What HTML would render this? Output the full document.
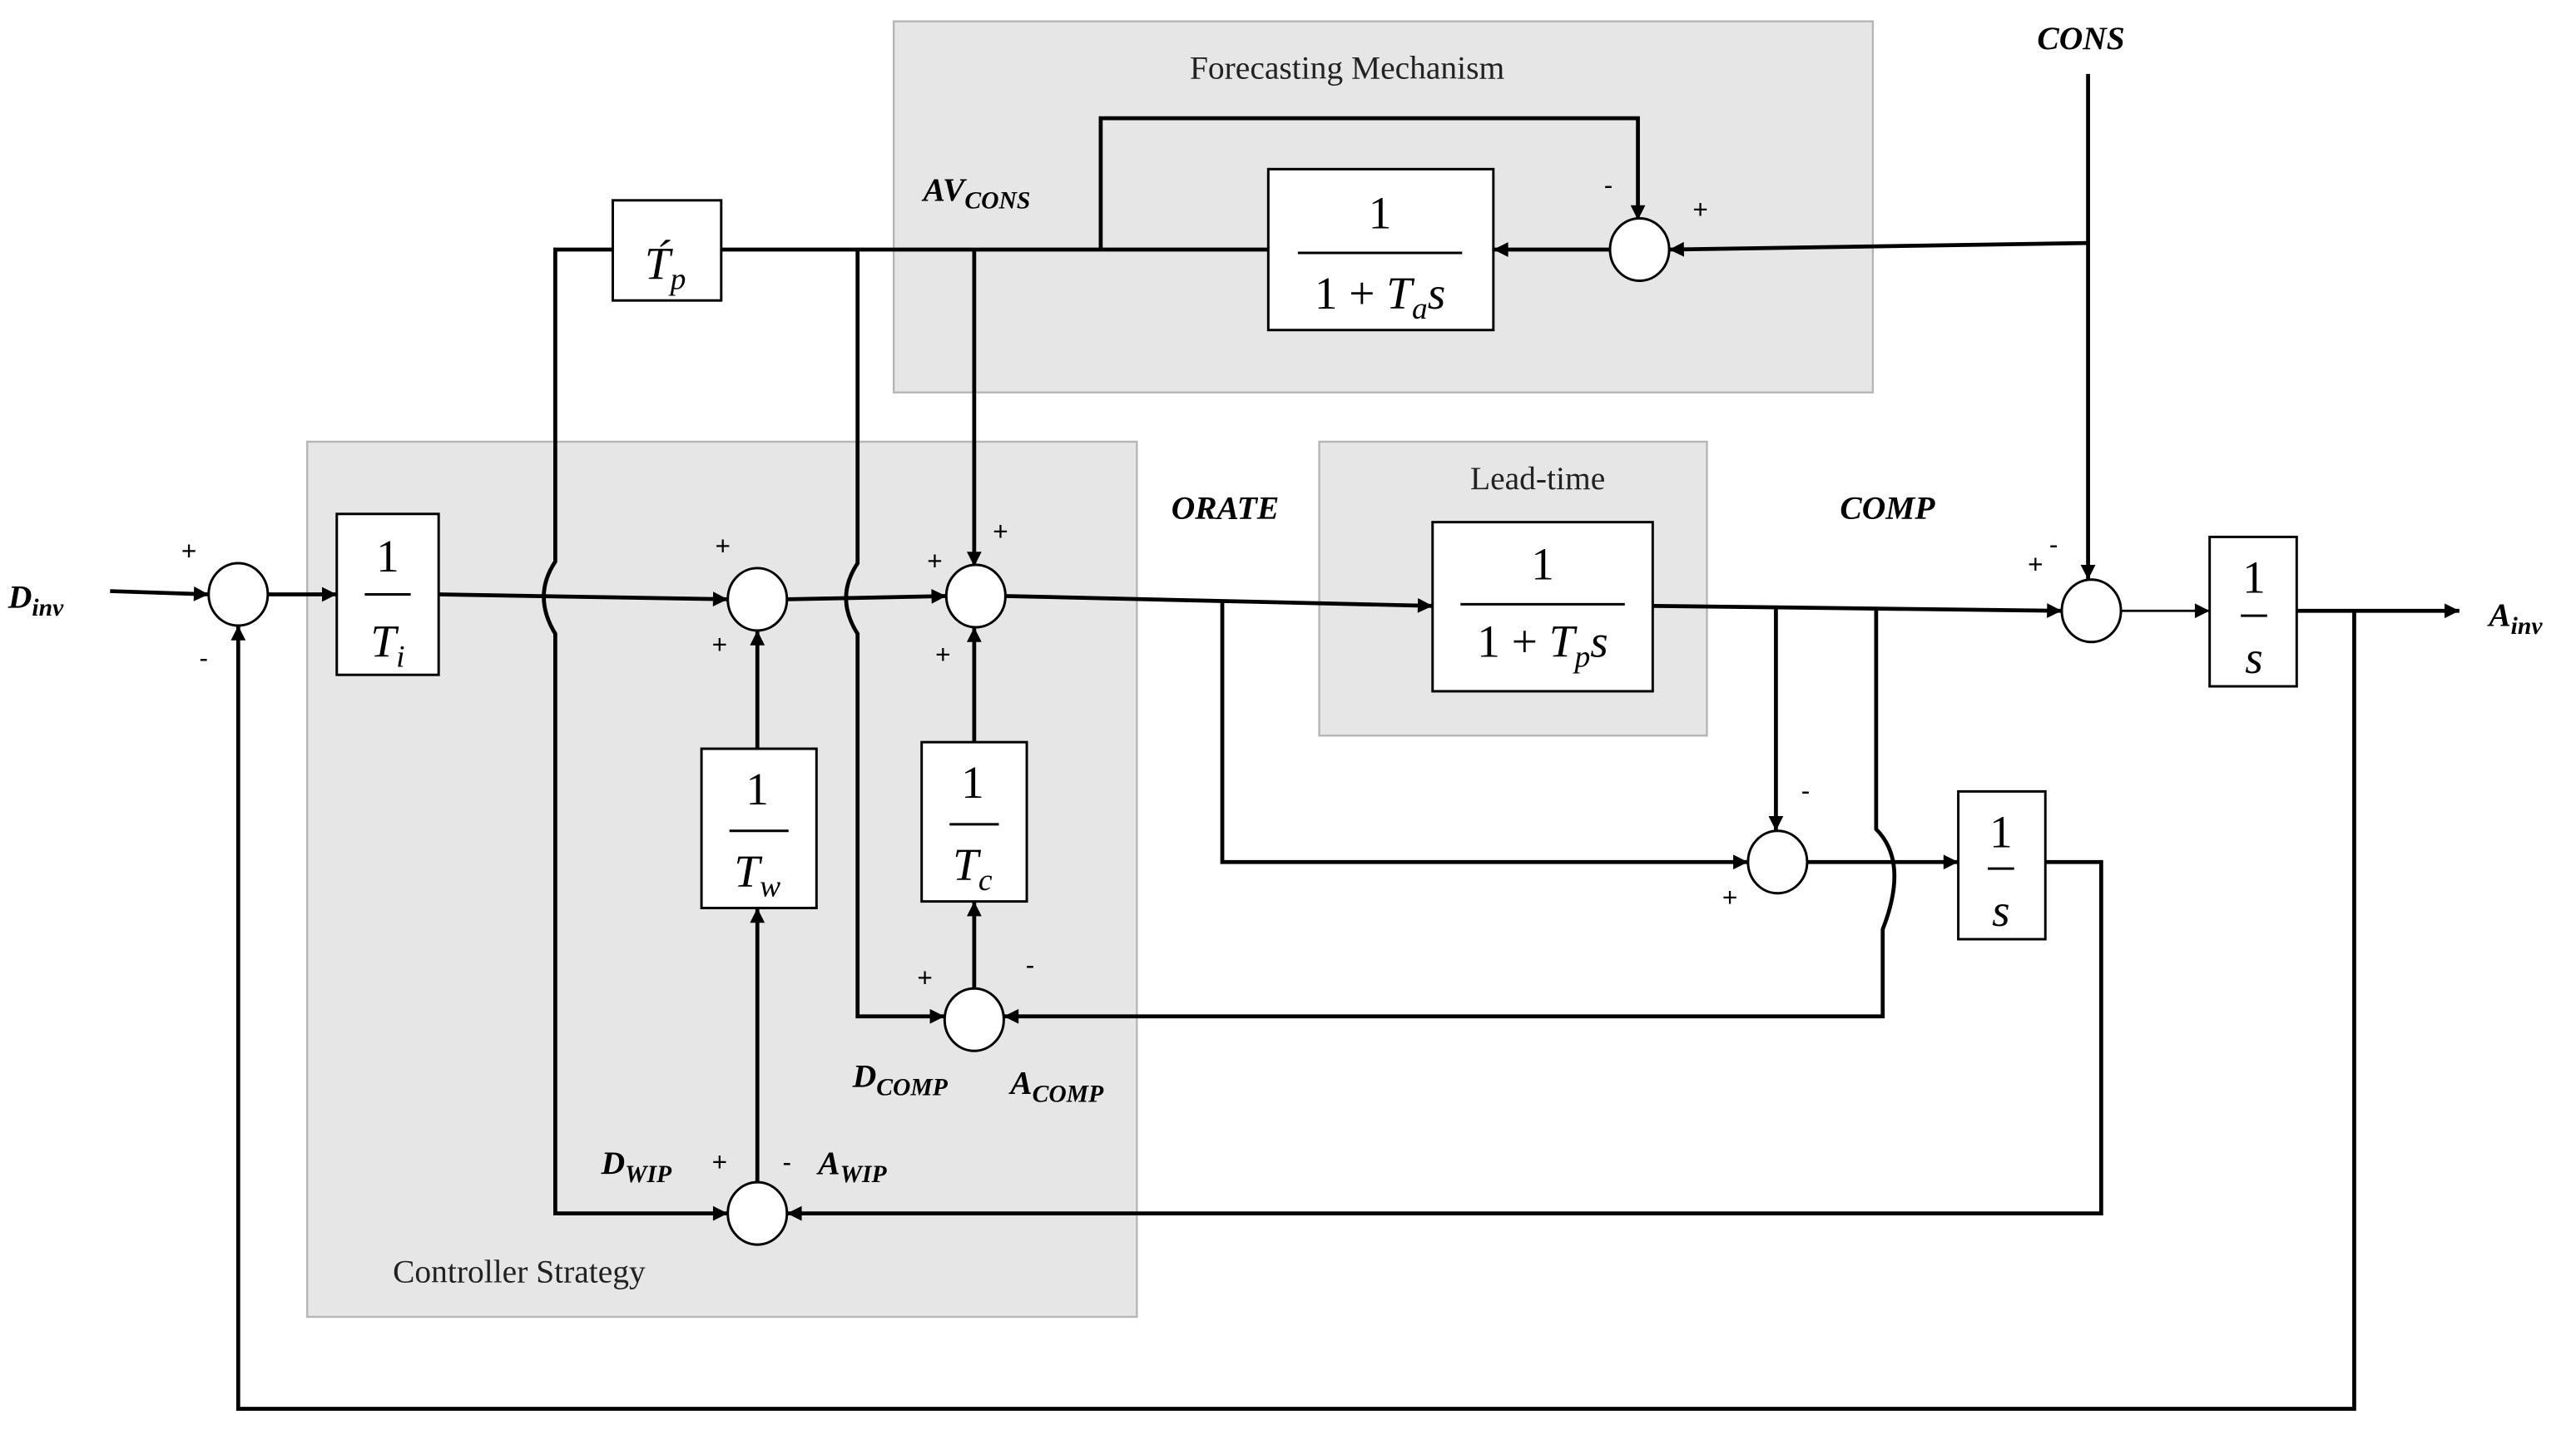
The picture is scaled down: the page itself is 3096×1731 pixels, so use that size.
<!DOCTYPE html>
<html><head><meta charset="utf-8"><style>html,body{margin:0;padding:0;background:#fff}svg{display:block}</style></head>
<body>
<svg width="3096" height="1731" viewBox="0 0 1568 877" preserveAspectRatio="none" xmlns="http://www.w3.org/2000/svg">
<defs>
<marker id="a" viewBox="0 0 10 10" refX="10" refY="5" markerWidth="11" markerHeight="9" markerUnits="userSpaceOnUse" orient="auto"><path d="M0,0 L10,5 L0,10 z" fill="#000"/></marker>
</defs>
<rect x="0" y="0" width="1568" height="877" fill="#fff"/>
<!-- regions -->
<rect x="544" y="13" width="596" height="226" fill="#e6e6e6" stroke="#b5b5b5" stroke-width="1.2"/>
<rect x="187" y="269" width="505" height="533" fill="#e6e6e6" stroke="#b5b5b5" stroke-width="1.2"/>
<rect x="803" y="269" width="236" height="179" fill="#e6e6e6" stroke="#b5b5b5" stroke-width="1.2"/>
<g font-family="Liberation Serif, serif" font-size="20" fill="#222" text-anchor="middle">
<text x="820" y="48">Forecasting Mechanism</text>
<text x="936" y="298">Lead-time</text>
<text x="316" y="781">Controller Strategy</text>
</g>
<!-- lines -->
<g fill="none" stroke="#000" stroke-width="2.4">
<path d="M67,360 L127,362" marker-end="url(#a)"/>
<path d="M163,362 L205,362" marker-end="url(#a)"/>
<path d="M267,362 L443,365" marker-end="url(#a)"/>
<path d="M479,365 L576,363" marker-end="url(#a)"/>
<path d="M612,363 L872,369" marker-end="url(#a)"/>
<path d="M744,366 V525 H1064" marker-end="url(#a)"/>
<path d="M1006,369 L1255,372" marker-end="url(#a)"/>
<path d="M1081,370 V506" marker-end="url(#a)"/>
<path d="M1142,371 V505 Q1162,525 1146,566 V619 H611" marker-end="url(#a)"/>
<path d="M1100,525 H1192" marker-end="url(#a)"/>
<path d="M1245,525 H1279 V739 H479" marker-end="url(#a)"/>
<path d="M1291,372 H1345" stroke-width="1.4" marker-end="url(#a)"/>
<path d="M1398,372 H1497" marker-end="url(#a)"/>
<path d="M1433,372 V858 H145 V381" marker-end="url(#a)"/>
<path d="M1271,45 V353" marker-end="url(#a)"/>
<path d="M1271,148 L1016,152" marker-end="url(#a)"/>
<path d="M980,152 H909" marker-end="url(#a)"/>
<path d="M772,152 H439"/>
<path d="M373,152 H338 V342 Q324,363 338,386 V739 H443" marker-end="url(#a)"/>
<path d="M670,152 V72 H997 V134" marker-end="url(#a)"/>
<path d="M522,152 V343 Q508,364 522,386 V619 H575" marker-end="url(#a)"/>
<path d="M593,152 V345" marker-end="url(#a)"/>
<path d="M461,720 V553" marker-end="url(#a)"/>
<path d="M461,456 V384" marker-end="url(#a)"/>
<path d="M593,602 V549" marker-end="url(#a)"/>
<path d="M593,452 V382" marker-end="url(#a)"/>
</g>
<!-- summers -->
<g fill="#fff" stroke="#000" stroke-width="1.5">
<ellipse cx="145" cy="362" rx="18" ry="19"/>
<ellipse cx="461" cy="365" rx="18" ry="19"/>
<ellipse cx="594" cy="363" rx="18" ry="19"/>
<ellipse cx="998" cy="152" rx="18" ry="19"/>
<ellipse cx="1273" cy="372" rx="18" ry="19"/>
<ellipse cx="1082" cy="525" rx="18" ry="19"/>
<ellipse cx="593" cy="621" rx="18" ry="19"/>
<ellipse cx="461" cy="739" rx="18" ry="19"/>
</g>
<!-- blocks -->
<g fill="#fff" stroke="#000" stroke-width="1.5">
<rect x="205" y="313" width="62" height="98"/>
<rect x="373" y="122" width="66" height="61"/>
<rect x="772" y="103" width="137" height="98"/>
<rect x="872" y="318" width="134" height="103"/>
<rect x="427" y="456" width="70" height="97"/>
<rect x="561" y="452" width="64" height="97"/>
<rect x="1345" y="327" width="53" height="91"/>
<rect x="1192" y="482" width="53" height="90"/>
</g>
<g stroke="#000" stroke-width="1.5">
<line x1="222" y1="362" x2="250" y2="362"/>
<line x1="790" y1="154" x2="890" y2="154"/>
<line x1="889" y1="368" x2="989" y2="368"/>
<line x1="444" y1="506" x2="480" y2="506"/>
<line x1="578" y1="502" x2="608" y2="502"/>
<line x1="1364" y1="375" x2="1380" y2="375"/>
<line x1="1210" y1="529" x2="1226" y2="529"/>
</g>
<g font-family="Liberation Serif, serif" font-size="28" fill="#000" text-anchor="middle">
<text x="236" y="348">1</text><text x="236" y="400" font-style="italic">T<tspan font-size="19" dy="6">i</tspan></text>
<text x="405" y="170" font-style="italic">T́<tspan font-size="19" dy="6">p</tspan></text>
<text x="840" y="139">1</text><text x="840" y="188">1 + <tspan font-style="italic">T</tspan><tspan font-style="italic" font-size="19" dy="6">a</tspan><tspan font-style="italic" dy="-6">s</tspan></text>
<text x="939" y="353">1</text><text x="939" y="400">1 + <tspan font-style="italic">T</tspan><tspan font-style="italic" font-size="19" dy="6">p</tspan><tspan font-style="italic" dy="-6">s</tspan></text>
<text x="461" y="490">1</text><text x="461" y="540" font-style="italic">T<tspan font-size="19" dy="6">w</tspan></text>
<text x="592" y="486">1</text><text x="592" y="536" font-style="italic">T<tspan font-size="19" dy="6">c</tspan></text>
<text x="1372" y="361">1</text><text x="1372" y="410" font-style="italic">s</text>
<text x="1218" y="516">1</text><text x="1218" y="564" font-style="italic">s</text>
</g>
<!-- labels -->
<g font-family="Liberation Serif, serif" font-size="20" font-style="italic" font-weight="bold" fill="#000">
<text x="5" y="370">D<tspan font-size="15" dy="5">inv</tspan></text>
<text x="1515" y="381">A<tspan font-size="15" dy="5">inv</tspan></text>
<text x="562" y="122">AV<tspan font-size="15" dy="5">CONS</tspan></text>
<text x="713" y="316">ORATE</text>
<text x="1120" y="316">COMP</text>
<text x="1240" y="30">CONS</text>
<text x="519" y="662">D<tspan font-size="15" dy="5">COMP</tspan></text>
<text x="615" y="666">A<tspan font-size="15" dy="5">COMP</tspan></text>
<text x="366" y="715">D<tspan font-size="15" dy="5">WIP</tspan></text>
<text x="498" y="715">A<tspan font-size="15" dy="5">WIP</tspan></text>
</g>
<g font-family="Liberation Sans, sans-serif" font-size="16" fill="#000" text-anchor="middle">
<text x="115" y="341">+</text><text x="124" y="406">-</text>
<text x="440" y="338">+</text><text x="438" y="398">+</text>
<text x="569" y="347">+</text><text x="609" y="329">+</text><text x="574" y="404">+</text>
<text x="979" y="118">-</text><text x="1035" y="133">+</text>
<text x="1239" y="349">+</text><text x="1250" y="337">-</text>
<text x="1099" y="487">-</text><text x="1053" y="552">+</text>
<text x="563" y="601">+</text><text x="627" y="593">-</text>
<text x="438" y="713">+</text><text x="479" y="713">-</text>
</g>
</svg>
</body></html>
